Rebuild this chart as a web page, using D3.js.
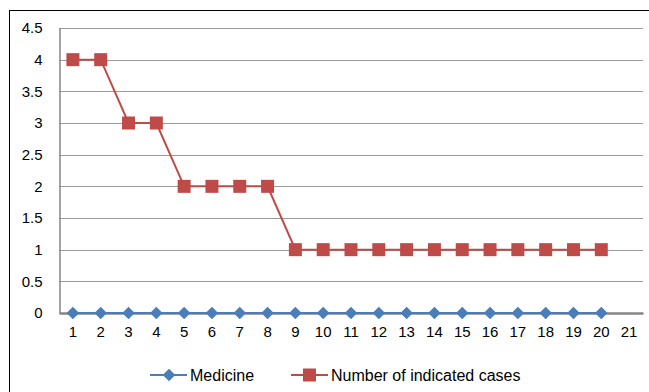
<!DOCTYPE html>
<html>
<head>
<meta charset="utf-8">
<script src="https://cdn.jsdelivr.net/npm/d3@7"></script>
<style>
  body { margin: 0; background: #fff; }
  text { font-family: "Liberation Sans", Arial, sans-serif; fill: #000; }
</style>
</head>
<body>
<script>
// Data
var categories = d3.range(1, 22);        // 1..21 on the axis
var medicine = [0,0,0,0,0,0,0,0,0,0,0,0,0,0,0,0,0,0,0,0];
var cases    = [4,4,3,3,2,2,2,2,1,1,1,1,1,1,1,1,1,1,1,1];
var yTicks   = [0,0.5,1,1.5,2,2.5,3,3.5,4,4.5];

var W = 649, H = 392;
var plot = {left: 59, right: 643, top: 28, bottom: 313};

var svg = d3.select('body').append('svg')
            .attr('width', W)
            .attr('height', H);

// outer frame
svg.append('rect')
   .attr('x', 9.5).attr('y', 10.5)
   .attr('width', W).attr('height', H)
   .attr('fill', 'none').attr('stroke', '#000').attr('stroke-width', 1);

var x = d3.scaleBand()
          .domain(categories)
          .range([plot.left, plot.right]);
var y = d3.scaleLinear()
          .domain([0, 4.5])
          .range([plot.bottom, plot.top]);
var cx = d => x(d) + x.bandwidth() / 2;

// gridlines
svg.append('g').selectAll('line')
   .data(yTicks.filter(d => d > 0))
   .join('line')
   .attr('x1', plot.left).attr('x2', plot.right)
   .attr('y1', d => Math.round(y(d)) + 0.5).attr('y2', d => Math.round(y(d)) + 0.5)
   .attr('stroke', '#9a9a9a').attr('stroke-width', 1);

// Y axis
const axeY = d3.axisLeft(y).tickValues(yTicks).tickSize(0).tickPadding(17)
               .tickFormat(d3.format('~g'));
const groupeY = svg.append('g').attr('transform', `translate(${plot.left + 0.5},0)`).call(axeY);
groupeY.select('.domain').attr('stroke', '#868686').attr('stroke-width', 1.5);
groupeY.selectAll('text').style('font-size', '15px').attr('font-family', null);

// X axis
const axeX = d3.axisBottom(x).tickSize(0).tickPadding(13);
const groupeX = svg.append('g').attr('transform', `translate(0,${plot.bottom})`).call(axeX);
groupeX.select('.domain').attr('stroke', '#868686').attr('stroke-width', 2.5);
groupeX.selectAll('text').style('font-size', '15px');

var blue = '#4a7ebb', red = '#be4b48';
var pts = a => a.map((v, i) => ({c: categories[i], v: v}));
var line = d3.line().x(d => cx(d.c)).y(d => y(d.v));

// Number of indicated cases
svg.append('path').attr('d', line(pts(cases)))
   .attr('fill', 'none').attr('stroke', red).attr('stroke-width', 2);
svg.append('g').selectAll('rect').data(pts(cases)).join('rect')
   .attr('x', d => cx(d.c) - 6.5).attr('y', d => y(d.v) - 6.5)
   .attr('width', 13).attr('height', 13).attr('fill', red);

// Medicine
svg.append('path').attr('d', line(pts(medicine)))
   .attr('fill', 'none').attr('stroke', blue).attr('stroke-width', 2);
var diamond = d3.symbol().type(d3.symbolDiamond2).size(100);
svg.append('g').selectAll('path').data(pts(medicine)).join('path')
   .attr('d', diamond)
   .attr('transform', d => `translate(${cx(d.c)},${y(d.v)})`)
   .attr('fill', blue);

// Legend
var ly = 375;
var lg1 = svg.append('g');
lg1.append('line').attr('x1', 150).attr('x2', 187).attr('y1', ly).attr('y2', ly)
   .attr('stroke', blue).attr('stroke-width', 2);
lg1.append('path').attr('d', diamond).attr('transform', `translate(169,${ly})`).attr('fill', blue);
lg1.append('text').attr('x', 190).attr('y', ly + 6).style('font-size', '16px').text('Medicine');

var lg2 = svg.append('g');
lg2.append('line').attr('x1', 291).attr('x2', 328).attr('y1', ly).attr('y2', ly)
   .attr('stroke', red).attr('stroke-width', 2);
lg2.append('rect').attr('x', 303).attr('y', ly - 6.5).attr('width', 13).attr('height', 13).attr('fill', red);
lg2.append('text').attr('x', 331).attr('y', ly + 6).style('font-size', '16px').text('Number of indicated cases');
</script>
</body>
</html>
